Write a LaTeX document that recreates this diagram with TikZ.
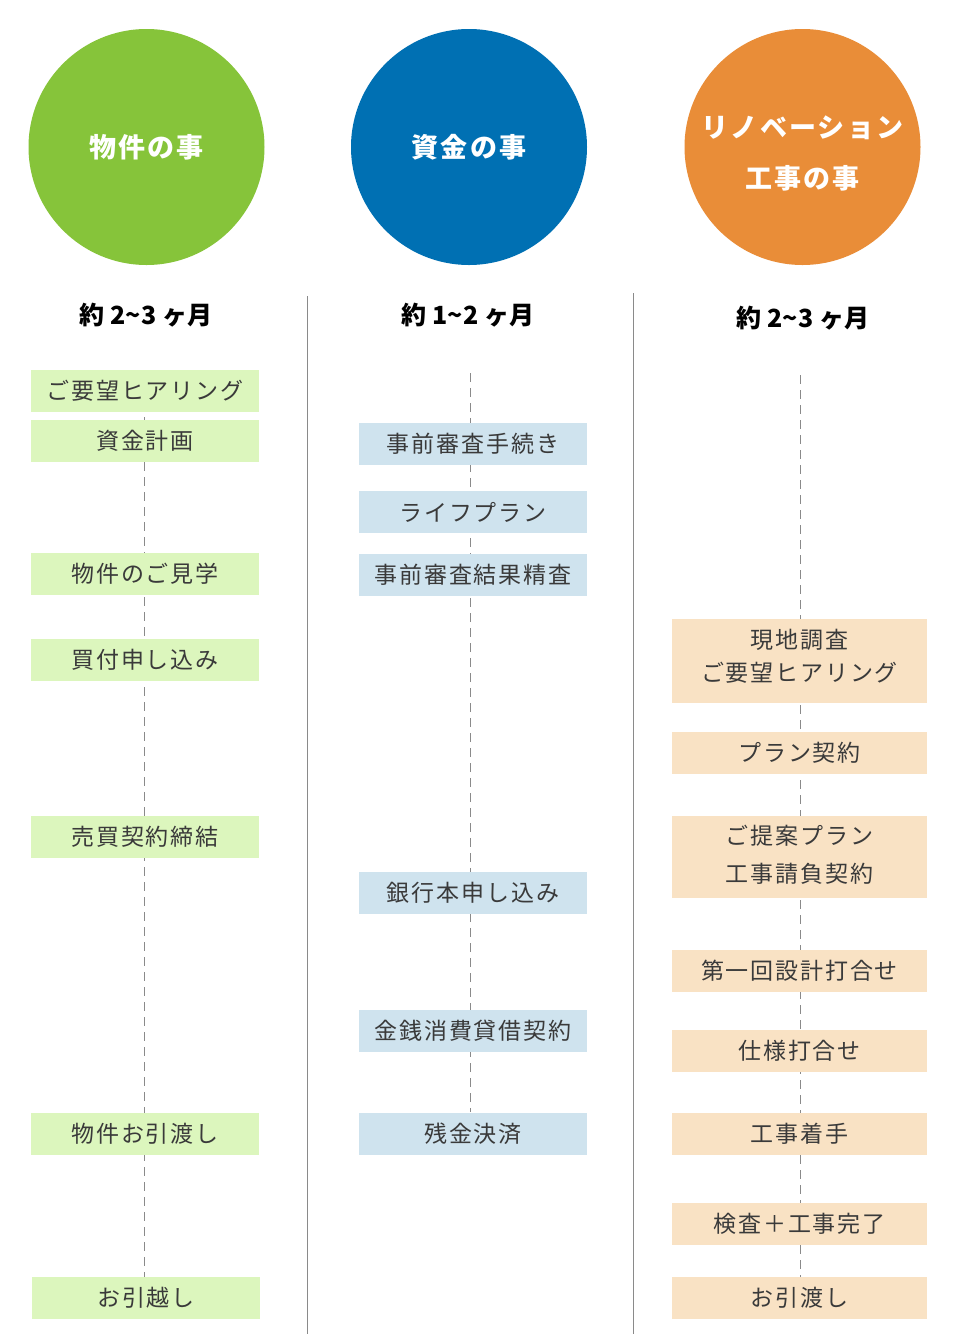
\documentclass[tikz,border=0pt]{standalone}
\usepackage{fontspec}
\setmainfont{Noto Sans CJK JP}
\newfontfamily\jpbox[LetterSpace=8]{Noto Sans CJK JP}
\newfontfamily\jpcirc[LetterSpace=8]{Noto Sans CJK JP}
\definecolor{cgreen}{HTML}{86C43A}
\definecolor{cblue}{HTML}{0070B3}
\definecolor{corange}{HTML}{E98D38}
\definecolor{lgreen}{HTML}{DCF6BD}
\definecolor{lblue}{HTML}{CFE3EE}
\definecolor{lorange}{HTML}{F9E2C4}
\definecolor{tgray}{HTML}{3A3A3A}
\definecolor{lgray}{HTML}{8A8A8A}
\tikzset{
  x=1pt, y=-1pt,
  circ/.style={circle, minimum size=236pt, inner sep=0pt, text=white, font=\jpcirc\fontsize{27}{40}\selectfont\bfseries, align=center},
  head/.style={font=\fontsize{25}{28}\selectfont\bfseries, text=black},
  stepbox/.style={minimum width=228pt, minimum height=42pt, inner sep=0pt, text=tgray, font=\jpbox\fontsize{23}{26}\selectfont, align=center},
  gbox/.style={stepbox, fill=lgreen},
  bbox/.style={stepbox, fill=lblue},
  obox/.style={stepbox, fill=lorange, minimum width=255pt},
  boxtext/.style={inner sep=0pt, text=tgray, font=\jpbox\fontsize{23}{26}\selectfont, align=center},
  tline/.style={draw=lgray, line width=0.8pt, dash pattern=on 9pt off 6pt},
  sep/.style={draw=lgray, line width=1pt}
}
\begin{document}
\begin{tikzpicture}
\useasboundingbox[fill=white] (0,0) rectangle (953,1334);
% circles
\node[circ, fill=cgreen] (c1) at (146.5,147) {物件の事};
\node[circ, fill=cblue] (c2) at (469,147) {資金の事};
\node[circ, fill=corange] (c3) at (802.5,147) {};
\node[circ, text=white] (c3t) at (802.5,153) {リノベーション\\[11pt]工事の事};
% headers
\node[head] (h1) at (146,315) {約 2\char"007E 3 ヶ月};
\node[head] (h2) at (468,315) {約 1\char"007E 2 ヶ月};
\node[head] (h3) at (803,318) {約 2\char"007E 3 ヶ月};
% separators
\coordinate (s1t) at (307,296); \coordinate (s1b) at (307,1334);
\coordinate (s2t) at (633,293); \coordinate (s2b) at (633,1334);
\draw[sep] (s1t) -- (s1b);
\draw[sep] (s2t) -- (s2b);
% timelines
\coordinate (t1t) at (144,372); \coordinate (t1b) at (144,1278);
\coordinate (t2t) at (470,373); \coordinate (t2b) at (470,1112);
\coordinate (t3t) at (800,375); \coordinate (t3b) at (800,1280);
\draw[tline] (t1t) -- (t1b);
\draw[tline] (t2t) -- (t2b);
\draw[tline] (t3t) -- (t3b);
% left column
\node[gbox] (a1) at (145,391) {ご要望ヒアリング};
\node[gbox] (a2) at (145,441) {資金計画};
\node[gbox] (a3) at (145,574) {物件のご見学};
\node[gbox] (a4) at (145,660) {買付申し込み};
\node[gbox] (a5) at (145,837) {売買契約締結};
\node[gbox] (a6) at (145,1134) {物件お引渡し};
\node[gbox] (a7) at (146,1298) {お引越し};
% middle column
\node[bbox] (b1) at (473,444) {事前審査手続き};
\node[bbox] (b2) at (473,512) {ライフプラン};
\node[bbox] (b3) at (473,575) {事前審査結果精査};
\node[bbox] (b4) at (473,893) {銀行本申し込み};
\node[bbox] (b5) at (473,1031) {金銭消費貸借契約};
\node[bbox] (b6) at (473,1134) {残金決済};
% right column
\node[obox, minimum height=84pt] (r1) at (799.5,661) {};
\node[boxtext] (r1t) at ([yshift=4.5pt]r1.center) {現地調査\\[7pt]ご要望ヒアリング};
\node[obox] (r2) at (799.5,753) {プラン契約};
\node[obox, minimum height=82pt] (r3) at (799.5,857) {};
\node[boxtext] (r3t) at ([yshift=2pt]r3.center) {ご提案プラン\\[12pt]工事請負契約};
\node[obox] (r4) at (799.5,971) {第一回設計打合せ};
\node[obox] (r5) at (799.5,1051) {仕様打合せ};
\node[obox] (r6) at (799.5,1134) {工事着手};
\node[obox] (r7) at (799.5,1224) {検査＋工事完了};
\node[obox] (r8) at (799.5,1298) {お引渡し};
\end{tikzpicture}
\end{document}
